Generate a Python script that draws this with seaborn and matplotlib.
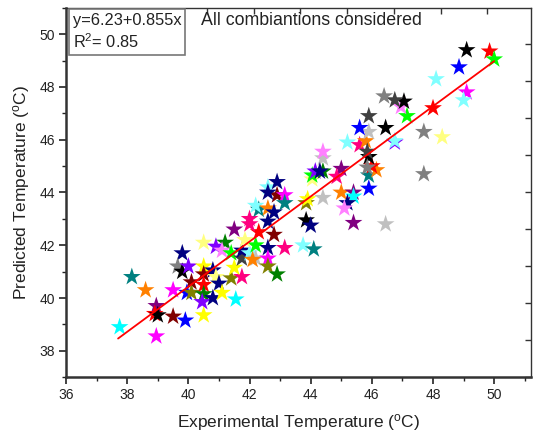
import numpy as np
import pandas as pd
import matplotlib
matplotlib.use("Agg")
import matplotlib.pyplot as plt
from matplotlib.ticker import MultipleLocator, FixedLocator, NullFormatter
import seaborn as sns

# data
exp_temp = [37.75, 38.15, 38.6, 38.95, 38.9, 39.0, 38.95, 39.5, 39.9, 39.5,
            40.5, 39.8, 39.65, 39.8, 40.0, 40.1, 39.95, 40.1, 40.5, 40.5,
            40.5, 40.5, 40.45, 40.8, 40.8, 40.9, 41.0, 41.1, 41.55, 41.4,
            41.75, 41.5, 40.5, 40.9, 41.2, 41.1, 41.4, 41.75, 41.75, 42.0,
            42.2, 42.1, 42.6, 42.6, 42.6, 42.9, 42.2, 41.85, 41.5, 42.3,
            42.0, 42.0, 42.8, 42.6, 42.3, 42.2, 42.6, 42.8, 42.6, 42.9,
            42.9, 42.6, 43.15, 43.15, 43.15, 43.75, 44.1, 43.85, 44.0, 43.85,
            43.9, 44.4, 44.05, 44.05, 44.15, 44.4, 44.4, 44.4, 45.0, 44.85,
            45.0, 45.4, 45.4, 45.2, 45.1, 45.4, 46.45, 45.9, 45.9, 46.15,
            46.0, 45.9, 45.85, 45.2, 45.6, 45.8, 45.9, 45.6, 45.9, 46.45,
            46.75, 46.75, 47.15, 46.95, 47.05, 46.75, 46.4, 47.7, 48.3, 47.7,
            48.0, 48.1, 48.85, 49.1, 49.85, 50.0, 49.1, 49.0, 45.85, 44.3]
pred_temp = [38.9, 40.8, 40.3, 39.7, 39.4, 39.35, 38.55, 39.3, 39.15, 40.3,
             39.35, 41.7, 41.2, 41.0, 41.2, 40.6, 40.2, 40.2, 41.2, 40.9,
             40.5, 40.15, 39.85, 40.0, 41.05, 40.8, 40.55, 40.2, 39.95, 40.75,
             40.8, 41.15, 42.1, 41.95, 42.1, 41.8, 41.7, 41.5, 41.8, 41.7,
             41.5, 41.45, 41.9, 41.5, 41.2, 40.9, 42.0, 42.2, 42.6, 42.5,
             43.0, 42.8, 42.4, 42.9, 43.35, 43.5, 43.4, 43.25, 44.2, 44.4,
             43.9, 44.0, 43.9, 43.6, 41.9, 42.0, 41.85, 42.95, 42.75, 43.6,
             43.75, 43.8, 44.5, 44.65, 44.8, 44.8, 45.3, 45.55, 44.9, 44.6,
             44.0, 44.0, 43.85, 43.6, 43.4, 42.85, 42.8, 44.15, 44.65, 44.85,
             45.0, 45.35, 44.95, 45.9, 45.8, 45.95, 46.3, 46.45, 46.9, 46.45,
             45.9, 45.95, 46.9, 47.25, 47.45, 47.5, 47.65, 46.3, 46.1, 44.7,
             47.2, 48.3, 48.75, 49.4, 49.35, 49.05, 47.8, 47.5, 45.55, 44.8]
point_group = ["cyan", "teal", "orange", "purple", "red", "black", "magenta", "wine", "blue", "magenta",
               "yellow", "navy", "gray", "black", "violet", "wine", "blue", "olive", "yellow", "wine",
               "red", "green", "violet", "navy", "navy", "ltyellow", "navy", "yellow", "cyan", "olive",
               "pink", "yellow", "ltyellow", "violet", "green", "ltmagenta", "lime", "dkgray", "navy", "ltcyan",
               "ltgray", "orange", "navy", "magenta", "olive", "green", "lime", "ltyellow", "purple", "red",
               "pink", "pink", "wine", "navy", "teal", "ltcyan", "orange", "navy", "ltcyan", "navy",
               "wine", "navy", "magenta", "teal", "pink", "ltcyan", "teal", "black", "navy", "olive",
               "yellow", "ltgray", "ltyellow", "lime", "violet", "green", "ltgray", "ltmagenta", "purple", "pink",
               "orange", "purple", "cyan", "navy", "ltmagenta", "purple", "ltgray", "blue", "teal", "orange",
               "red", "black", "gray", "ltcyan", "pink", "orange", "ltgray", "blue", "dkgray", "black",
               "violet", "ltcyan", "lime", "ltmagenta", "black", "dkgray", "gray", "gray", "ltyellow", "gray",
               "red", "ltcyan", "blue", "black", "red", "lime", "magenta", "ltcyan", "dkgray", "navy"]

fit_intercept = 6.23
fit_slope = 0.855
fit_x = [37.7, 50.0]

palette = {"black": "#000000", "red": "#FF0000", "lime": "#00FF00", "blue": "#0000FF",
           "cyan": "#00FFFF", "magenta": "#FF00FF", "yellow": "#FFFF00", "olive": "#808000",
           "navy": "#000080", "purple": "#800080", "wine": "#800000", "teal": "#008080",
           "orange": "#FF8000", "violet": "#8000FF", "pink": "#FF0080", "ltgray": "#C0C0C0",
           "gray": "#808080", "ltyellow": "#FFFF80", "ltcyan": "#80FFFF", "ltmagenta": "#FF80FF",
           "dkgray": "#404040", "green": "#008000"}

df = pd.DataFrame({"exp": exp_temp, "pred": pred_temp, "group": point_group})
fit_df = pd.DataFrame({"exp": fit_x})
fit_df["pred"] = fit_intercept + fit_slope * fit_df["exp"]

sns.set_style("ticks")
plt.rcParams["font.family"] = ["Liberation Sans", "DejaVu Sans"]
plt.rcParams["mathtext.default"] = "regular"

fig = plt.figure(figsize=(5.33, 4.36), dpi=100)
ax = fig.add_axes([0.124, 0.135, 0.872, 0.847])

sns.scatterplot(data=df, x="exp", y="pred", hue="group", palette=palette,
                marker="*", s=180, linewidth=0, legend=False, ax=ax, zorder=2)
sns.lineplot(data=fit_df, x="exp", y="pred", color="red", linewidth=1.3, ax=ax, zorder=3)

ax.set_xlim(36, 51.2)
ax.set_ylim(37, 51)
ax.xaxis.set_major_locator(MultipleLocator(2))
ax.xaxis.set_minor_locator(MultipleLocator(1))
ax.yaxis.set_major_locator(MultipleLocator(2))
ax.yaxis.set_minor_locator(MultipleLocator(1))
ax.tick_params(axis="both", which="major", direction="out", length=5, width=1.2,
               labelsize=10, color="#222222", labelcolor="#222222", pad=3)
ax.tick_params(axis="both", which="minor", direction="out", length=3, width=1.0, color="#222222")

for side in ["left", "bottom"]:
    ax.spines[side].set_linewidth(1.8)
    ax.spines[side].set_color("#333333")
for side in ["top", "right"]:
    ax.spines[side].set_visible(True)
    ax.spines[side].set_linewidth(1.0)
    ax.spines[side].set_color("#333333")

# inward ticks on the top and right frame
top = ax.secondary_xaxis("top")
top.xaxis.set_major_locator(FixedLocator(np.arange(37.54, 51.2, 1.53)))
top.xaxis.set_major_formatter(NullFormatter())
top.tick_params(direction="in", length=4, width=1.0, color="#333333")
top.spines["top"].set_visible(False)
right = ax.secondary_yaxis("right")
right.yaxis.set_major_locator(FixedLocator(np.arange(49.62, 37, -1.40)))
right.yaxis.set_major_formatter(NullFormatter())
right.tick_params(direction="in", length=4, width=1.0, color="#333333")
right.spines["right"].set_visible(False)

ax.set_xlabel("Experimental Temperature ($^{o}$C)", fontsize=12.5, color="#222222", labelpad=7)
ax.set_ylabel("Predicted Temperature ($^{o}$C)", fontsize=12.5, color="#222222", labelpad=5)

ax.text(0.014, 0.986, "y=6.23+0.855x\nR$^{2}$= 0.85", transform=ax.transAxes,
        ha="left", va="top", fontsize=11.8, color="#222222", linespacing=1.25,
        bbox=dict(boxstyle="square,pad=0.25", facecolor="white", edgecolor="#777777", linewidth=1.2))
ax.text(0.29, 0.988, "All combiantions considered", transform=ax.transAxes,
        ha="left", va="top", fontsize=12.8, color="#222222")

fig.savefig("out.png", dpi=100)
